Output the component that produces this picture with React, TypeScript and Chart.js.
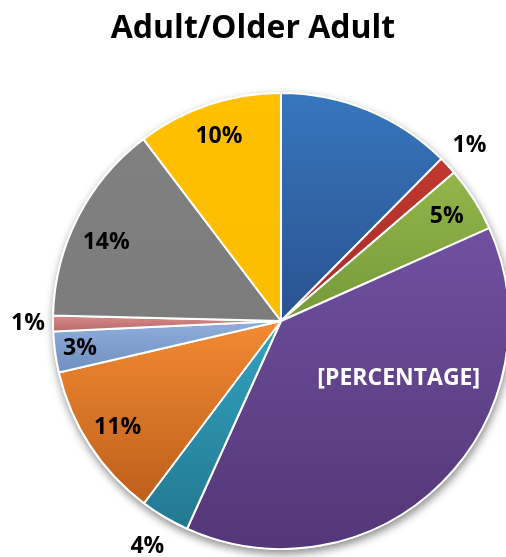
import React, { useEffect, useRef } from "react";
import { Chart, registerables } from "chart.js";

Chart.register(...registerables);

const chartTitle = "Adult/Older Adult";
const categories = [
  "Blue", "Red", "Green", "Purple", "Teal",
  "Orange", "Light Blue", "Pink", "Gray", "Yellow",
];
const values = [12.4, 1.3, 4.6, 38.4, 3.5, 11.1, 2.9, 1.1, 14.3, 10.3];
const dataLabels = ["", "1%", "5%", "[PERCENTAGE]", "4%", "11%", "3%", "1%", "14%", "10%"];

// styles (not data)
const lightColors = ["#3776bd", "#c0392f", "#93b54a", "#7050a0", "#32a3c0", "#f38a33", "#8eaedc", "#d88a89", "#808080", "#ffc000"];
const darkColors = ["#2a5290", "#a52a2a", "#76993a", "#533777", "#237891", "#bd5f1b", "#6f8fc0", "#b86a6a", "#7c7c7c", "#fbbd00"];
const labelRadius = [0, 1.13, 0.86, 0.575, 1.15, 0.855, 0.89, 1.11, 0.84, 0.855];
const labelAngleShift = [0, 0, 0, -19, 0, 0, 0, 0, -3, 0];
const labelColors = ["#000", "#000", "#000", "#fff", "#000", "#000", "#000", "#000", "#000", "#000"];

const FONT = "'Open Sans', 'DejaVu Sans', sans-serif";

export default function App() {
  const ref = useRef<HTMLCanvasElement | null>(null);

  useEffect(() => {
    if (!ref.current) return;
    const total = values.reduce((a, b) => a + b, 0);

    const sliceGradient = (ctx: any) => {
      const chart = ctx.chart;
      const i = ctx.dataIndex;
      const area = chart.chartArea;
      if (!area || i === undefined) return lightColors[i ?? 0];
      const cx = (area.left + area.right) / 2;
      const cy = (area.top + area.bottom) / 2;
      const r = Math.min(area.right - area.left, area.bottom - area.top) / 2 - 1;
      let cum = 0;
      for (let k = 0; k < i; k++) cum += values[k];
      const a0 = -Math.PI / 2 + (cum / total) * 2 * Math.PI;
      const a1 = a0 + (values[i] / total) * 2 * Math.PI;
      let ymin = cy, ymax = cy;
      const steps = 40;
      for (let s = 0; s <= steps; s++) {
        const a = a0 + ((a1 - a0) * s) / steps;
        const y = cy + r * Math.sin(a);
        ymin = Math.min(ymin, y);
        ymax = Math.max(ymax, y);
      }
      const g = chart.ctx.createLinearGradient(0, ymin, 0, ymax + 0.01);
      g.addColorStop(0, lightColors[i]);
      g.addColorStop(1, darkColors[i]);
      return g;
    };

    const shadowPlugin = {
      id: "pieShadow",
      beforeDatasetsDraw(chart: any) {
        const meta = chart.getDatasetMeta(0);
        const arc = meta.data[0];
        if (!arc) return;
        const { x, y, outerRadius } = arc.getProps(["x", "y", "outerRadius"], true);
        const c = chart.ctx;
        c.save();
        c.shadowColor = "rgba(0,0,0,0.45)";
        c.shadowBlur = 9;
        c.shadowOffsetX = 1;
        c.shadowOffsetY = 4;
        c.beginPath();
        c.arc(x, y, outerRadius + 1, 0, Math.PI * 2);
        c.fillStyle = "#ffffff";
        c.fill();
        c.restore();
      },
    };

    const labelPlugin = {
      id: "sliceLabels",
      afterDatasetsDraw(chart: any) {
        const meta = chart.getDatasetMeta(0);
        const c = chart.ctx;
        c.save();
        c.font = `bold 23px ${FONT}`;
        c.textAlign = "center";
        c.textBaseline = "middle";
        meta.data.forEach((arc: any, i: number) => {
          const text = dataLabels[i];
          if (!text) return;
          const { x, y, startAngle, endAngle, outerRadius } = arc.getProps(
            ["x", "y", "startAngle", "endAngle", "outerRadius"], true
          );
          const mid = (startAngle + endAngle) / 2 + (labelAngleShift[i] * Math.PI) / 180;
          const rr = outerRadius * labelRadius[i];
          c.fillStyle = labelColors[i];
          c.fillText(text, x + rr * Math.cos(mid), y + rr * Math.sin(mid));
        });
        c.restore();
      },
      afterDraw(chart: any) {
        const c = chart.ctx;
        c.save();
        c.font = `bold 32px ${FONT}`;
        c.textAlign = "center";
        c.textBaseline = "alphabetic";
        c.fillStyle = "#000";
        c.fillText(chartTitle, 253, 38);
        c.restore();
      },
    };

    const chart = new Chart(ref.current, {
      type: "pie",
      data: {
        labels: categories,
        datasets: [
          {
            data: values,
            backgroundColor: sliceGradient as any,
            borderColor: "#ffffff",
            borderWidth: 2,
            hoverOffset: 0,
          },
        ],
      },
      options: {
        animation: false,
        responsive: false,
        layout: { padding: { top: 92, bottom: 7, left: 52, right: 30 } },
        plugins: {
          legend: { display: false },
          title: { display: false },
          tooltip: { enabled: false },
        },
      },
      plugins: [shadowPlugin, labelPlugin],
    });
    return () => chart.destroy();
  }, []);

  return (
    <div style={{ position: "absolute", left: 0, top: 0, width: 506, height: 557, overflow: "hidden", background: "#fff" }}>
      <canvas ref={ref} width={540} height={557} style={{ width: 540, height: 557, display: "block" }} />
    </div>
  );
}
